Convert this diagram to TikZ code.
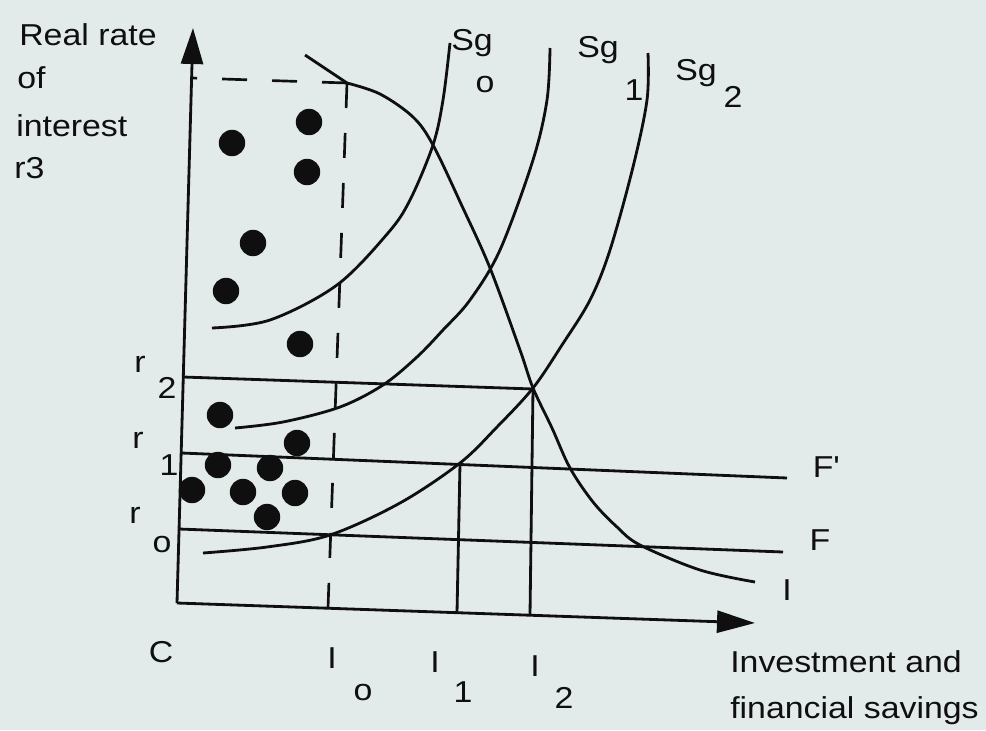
\documentclass[tikz,border=0pt]{standalone}
\usepackage{fontspec}
\setmainfont[FakeStretch=1.12]{Liberation Sans}
\usetikzlibrary{arrows.meta}
\definecolor{paper}{RGB}{227,235,234}
\definecolor{ink}{RGB}{15,15,15}
\begin{document}
\begin{tikzpicture}[x=0.025cm,y=-0.025cm,
  line/.style={draw=ink, line width=2pt},
  curve/.style={draw=ink, line width=2pt, smooth, tension=0.55},
  dash25/.style={draw=ink, line width=1.9pt, dash pattern=on 0.625cm off 0.625cm},
  lab/.style={inner sep=0pt, anchor=base, text=ink, font=\fontsize{21.5}{26}\selectfont},
  labw/.style={lab, anchor=base west},
  dot/.style={circle, fill=ink, minimum size=0.66cm, inner sep=0pt}]
\fill[paper] (0,0) rectangle (986,730);
\useasboundingbox (0,0) rectangle (986,730);

% axes
\coordinate (O) at (177,603);
\coordinate (Ytip) at (193,28);
\coordinate (Xtip) at (755,623);
\draw[line, -{Triangle[length=0.9cm,width=0.55cm]}] (O) -- (Ytip);
\draw[line, -{Triangle[length=0.95cm,width=0.55cm]}] (O) -- (Xtip);

% dashed lines
\coordinate (D) at (347,83);
\coordinate (DL) at (191.6,78);
\coordinate (I0b) at (328,608);
\draw[dash25] (D) -- (DL);
\draw[dash25] (D) -- (I0b);

% horizontal and vertical lines
\coordinate (R2a) at (183,377);
\coordinate (P2) at (533,389);
\coordinate (R1a) at (181.5,453);
\coordinate (P1) at (460,464);
\coordinate (R1b) at (787,478);
\coordinate (R0a) at (179,529);
\coordinate (R0b) at (783,552);
\coordinate (I1b) at (457,613);
\coordinate (I2b) at (530,615);
\draw[line] (R2a) -- (P2);
\draw[line] (R1a) -- (R1b);
\draw[line] (R0a) -- (R0b);
\draw[line] (P1) -- (I1b);
\draw[line] (P2) -- (I2b);

% curves
\draw[curve] (305,55) -- (347,83) plot coordinates {(347,83) (380,94) (413,117) (433,145) (462,206) (490,268) (520,350) (533,388) (552,428) (570,468) (593,502) (617,527) (640,545) (700,570) (755,582)};
\draw[curve] plot coordinates {(450,43) (443,100) (433,145) (410,200) (388,233) (337,285) (270,320) (212,328)};
\draw[curve] plot coordinates {(550,48) (547,100) (533,160) (500,250) (470,300) (443,330) (417,357) (383,385) (340,407) (283,422) (235,428)};
\draw[curve] plot coordinates {(648,53) (647,100) (633,167) (610,250) (590,300) (562,345) (533,388) (497,427) (460,463) (400,503) (330,535) (267,547) (203,553)};

% dots
\foreach \p [count=\i] in {(232,143),(309,122),(307,172),(253,243),(226,291),(300,344),(220,415),(297,443),(218,465),(270,468),(192,490),(243,492),(295,493),(267,517)}
  \node[dot] (dot\i) at \p {};

% labels
\node[labw] (ya) at (19,45) {Real rate};
\node[labw] (yb) at (17,88) {of};
\node[labw] (yc) at (16,136) {interest};
\node[labw] (yd) at (14,178) {r3};

\node[lab] (sg0) at (472,50) {Sg};
\node[lab] (sg0s) at (485,92) {o};
\node[lab] (sg1) at (598,57) {Sg};
\node[lab] (sg1s) at (634,100) {1};
\node[lab] (sg2) at (696,80) {Sg};
\node[lab] (sg2s) at (733,107) {2};

\node[lab] (r2) at (140,372) {r};
\node[lab] (r2s) at (167,398) {2};
\node[lab] (r1) at (138,448) {r};
\node[lab] (r1s) at (169,475) {1};
\node[lab] (r0) at (135,523) {r};
\node[lab] (r0s) at (162,552) {o};

\node[lab] (c) at (161,662) {C};
\node[lab] (i0) at (332,668) {I};
\node[lab] (i0s) at (363,700) {o};
\node[lab] (i1) at (435,672) {I};
\node[lab] (i1s) at (463,702) {1};
\node[lab] (i2) at (535,676) {I};
\node[lab] (i2s) at (564,708) {2};

\node[lab] (fp) at (826,477) {F\textquotesingle};
\node[lab] (f) at (820,550) {F};
\node[lab] (icurve) at (787,600) {I};
\node[labw] (xa) at (730,672) {Investment and};
\node[labw] (xb) at (730,718) {financial savings};
\end{tikzpicture}
\end{document}
